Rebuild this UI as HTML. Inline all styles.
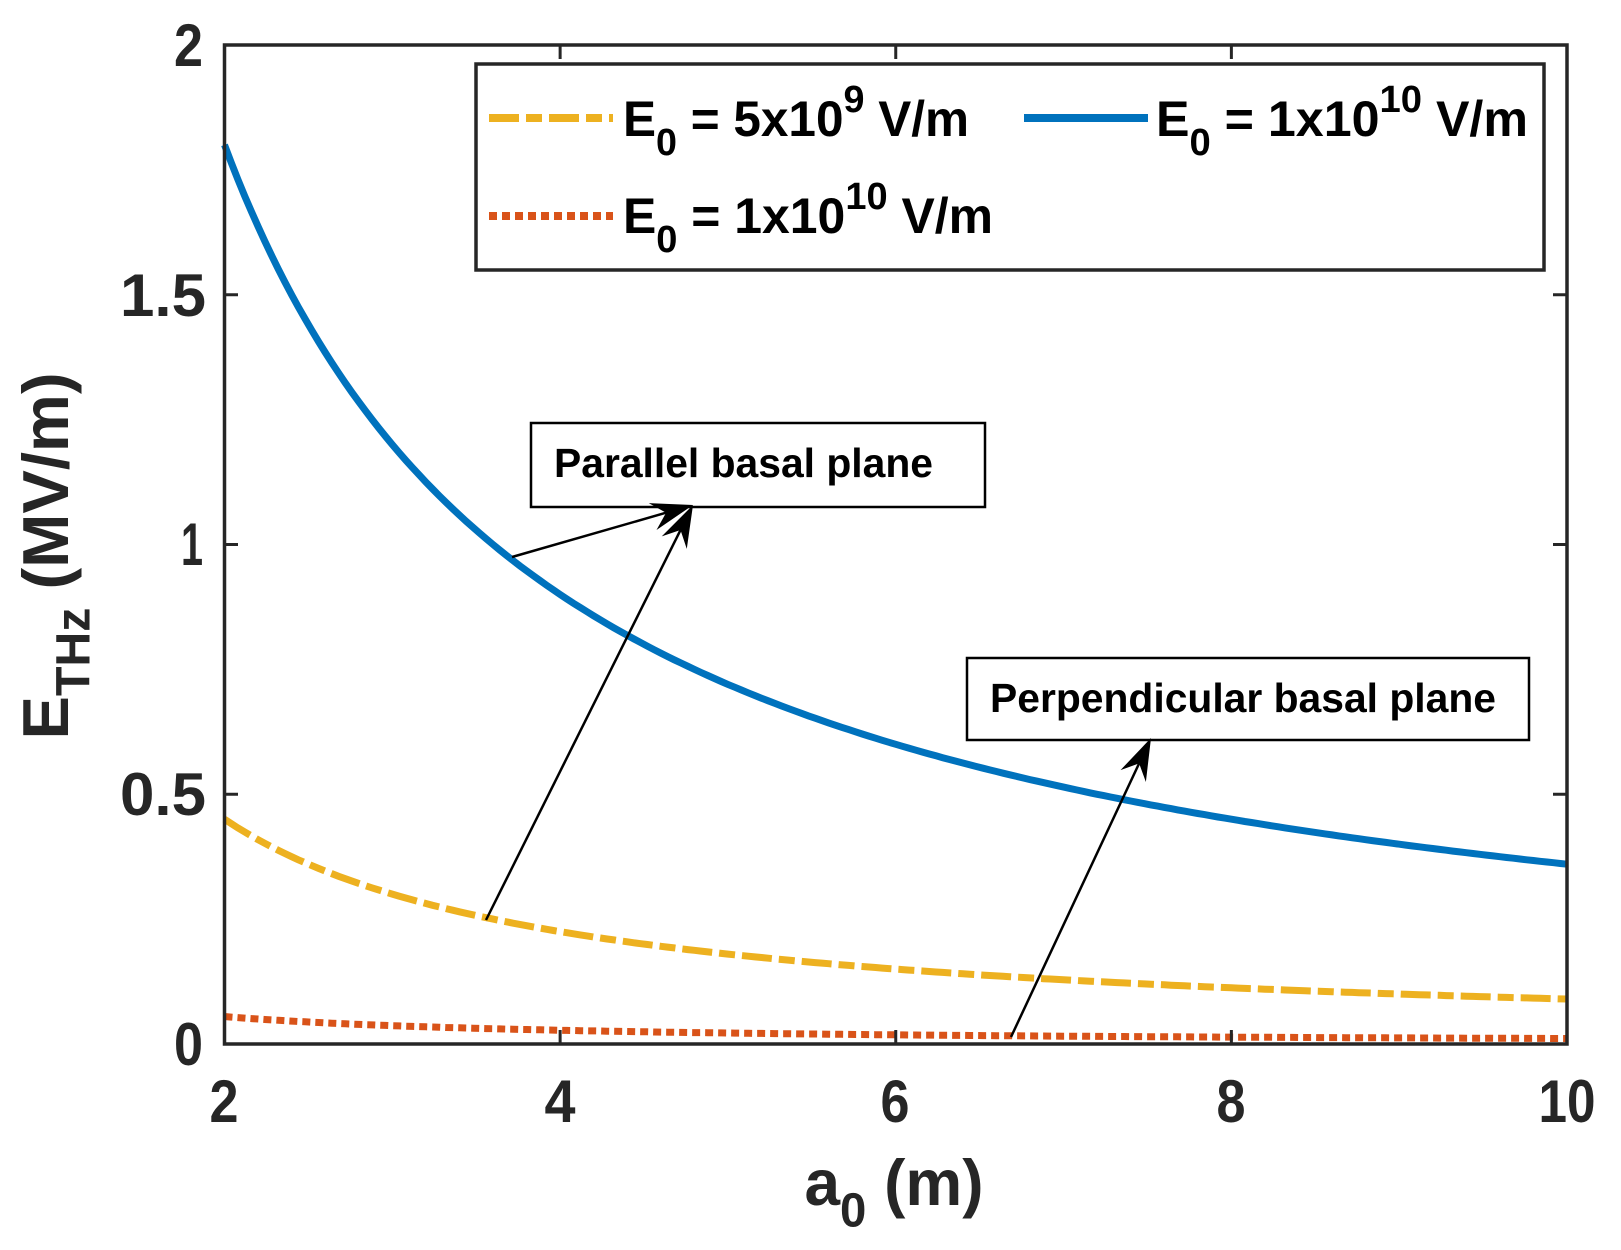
<!DOCTYPE html>
<html><head><meta charset="utf-8"><style>
html,body{margin:0;padding:0;background:#fff}
svg{display:block}
text{font-family:"Liberation Sans",Arial,sans-serif;font-weight:bold}
</style></head><body>
<svg id="s" width="1621" height="1250" viewBox="0 0 1621 1250" xmlns="http://www.w3.org/2000/svg">
<rect width="1621" height="1250" fill="#fff"/>
<g id="curves"></g>
<rect x="224.5" y="45" width="1342.5" height="999" fill="none" stroke="#262626" stroke-width="3.5"/>
<g id="ticks" stroke="#262626" stroke-width="3"></g>
<g fill="#262626" font-size="50" text-anchor="middle">
<text transform="translate(224,1122) scale(1,1.2)" textLength="29" lengthAdjust="spacingAndGlyphs">2</text>
<text transform="translate(560,1122) scale(1,1.2)" textLength="31" lengthAdjust="spacingAndGlyphs">4</text>
<text transform="translate(895,1122) scale(1,1.2)" textLength="29" lengthAdjust="spacingAndGlyphs">6</text>
<text transform="translate(1231,1122) scale(1,1.2)" textLength="29" lengthAdjust="spacingAndGlyphs">8</text>
<text transform="translate(1567,1122) scale(1,1.2)" textLength="57" lengthAdjust="spacingAndGlyphs">10</text>
</g>
<g fill="#262626" font-size="50" text-anchor="end">
<text transform="translate(203,1065) scale(1,1.2)" textLength="29" lengthAdjust="spacingAndGlyphs">0</text>
<text transform="translate(206,815) scale(1,1.2)" textLength="86" lengthAdjust="spacingAndGlyphs">0.5</text>
<text transform="translate(203,565) scale(1,1.2)" textLength="22" lengthAdjust="spacingAndGlyphs">1</text>
<text transform="translate(206,316) scale(1,1.2)" textLength="86" lengthAdjust="spacingAndGlyphs">1.5</text>
<text transform="translate(203,66) scale(1,1.2)" textLength="29" lengthAdjust="spacingAndGlyphs">2</text>
</g>
<text fill="#262626" font-size="54" text-anchor="middle" transform="translate(894,1205) scale(1,1.2)" textLength="179" lengthAdjust="spacingAndGlyphs">a<tspan font-size="40" dy="18">0</tspan><tspan dy="-18"> (m)</tspan></text>
<text fill="#262626" font-size="54" text-anchor="middle" transform="translate(68,556) rotate(-90) scale(1,1.2)" textLength="367" lengthAdjust="spacingAndGlyphs">E<tspan font-size="40" dy="18">THz</tspan><tspan dy="-18"> (MV/m)</tspan></text>
<!-- legend -->
<rect x="476" y="64" width="1068" height="206" fill="#fff" stroke="#262626" stroke-width="3.5"/>
<line x1="489" y1="118" x2="613" y2="118" stroke="#EDB120" stroke-width="8" stroke-dasharray="30,7,16,7"/>
<line x1="1024" y1="118" x2="1148" y2="118" stroke="#0072BD" stroke-width="8"/>
<line x1="489" y1="216" x2="613" y2="216" stroke="#D95319" stroke-width="8" stroke-dasharray="8,5"/>
<g fill="#000" font-size="42">
<text transform="translate(623,136) scale(1,1.2)" textLength="346" lengthAdjust="spacingAndGlyphs">E<tspan font-size="32" dy="16">0</tspan><tspan dy="-16"> = 5x10</tspan><tspan font-size="32" dy="-20">9</tspan><tspan dy="20"> V/m</tspan></text>
<text transform="translate(1156,136) scale(1,1.2)" textLength="372" lengthAdjust="spacingAndGlyphs">E<tspan font-size="32" dy="16">0</tspan><tspan dy="-16"> = 1x10</tspan><tspan font-size="32" dy="-20">10</tspan><tspan dy="20"> V/m</tspan></text>
<text transform="translate(623,233) scale(1,1.2)" textLength="370" lengthAdjust="spacingAndGlyphs">E<tspan font-size="32" dy="16">0</tspan><tspan dy="-16"> = 1x10</tspan><tspan font-size="32" dy="-20">10</tspan><tspan dy="20"> V/m</tspan></text>
</g>
<!-- annotations -->
<rect x="531" y="423" width="454" height="84" fill="#fff" stroke="#000" stroke-width="2.5"/>
<text fill="#000" font-size="34" transform="translate(554,477) scale(1,1.2)" textLength="379" lengthAdjust="spacingAndGlyphs">Parallel basal plane</text>
<rect x="967" y="658" width="562" height="82" fill="#fff" stroke="#000" stroke-width="2.5"/>
<text fill="#000" font-size="34" transform="translate(990,712) scale(1,1.2)" textLength="506" lengthAdjust="spacingAndGlyphs">Perpendicular basal plane</text>
<g id="arrows"></g>
</svg>
<script>
var ns="http://www.w3.org/2000/svg";
function X(a){return 224.5+(a-2)*(1342.5/8);}
function Y(v){return 1044-v*499.5;}
function curve(k,col,dash){var d="";for(var i=0;i<=200;i++){var a=2+8*i/200;d+=(i?"L":"M")+X(a).toFixed(1)+","+Y(k/a).toFixed(1);}
var p=document.createElementNS(ns,"path");p.setAttribute("d",d);p.setAttribute("fill","none");p.setAttribute("stroke",col);p.setAttribute("stroke-width","7");if(dash)p.setAttribute("stroke-dasharray",dash);document.getElementById("curves").appendChild(p);}
curve(0.9,"#EDB120","30,7,16,7");
curve(3.6,"#0072BD",null);
curve(0.11,"#D95319","8,5");
var t=document.getElementById("ticks"),h="";
[4,6,8].forEach(function(a){var x=X(a);h+='<line x1="'+x+'" y1="1044" x2="'+x+'" y2="1030"/><line x1="'+x+'" y1="45" x2="'+x+'" y2="59"/>';});
[0.5,1,1.5].forEach(function(v){var y=Y(v);h+='<line x1="224.5" y1="'+y+'" x2="238" y2="'+y+'"/><line x1="1567" y1="'+y+'" x2="1553" y2="'+y+'"/>';});
t.innerHTML=h;
function arrow(x1,y1,x2,y2){var dx=x2-x1,dy=y2-y1,L=Math.hypot(dx,dy),ux=dx/L,uy=dy/L,px=-uy,py=ux;
var hl=42,hw=14,bk=28;
var bx=x2-ux*hl,by=y2-uy*hl,nx=x2-ux*bk,ny=y2-uy*bk;
var s='<line x1="'+x1+'" y1="'+y1+'" x2="'+nx+'" y2="'+ny+'" stroke="#000" stroke-width="2.5"/>';
s+='<polygon fill="#000" points="'+x2+','+y2+' '+(bx+px*hw)+','+(by+py*hw)+' '+nx+','+ny+' '+(bx-px*hw)+','+(by-py*hw)+'"/>';return s;}
document.getElementById("arrows").innerHTML=arrow(512,557,693,505)+arrow(486,920,693,505)+arrow(1011,1037,1151,738);
</script>
</body></html>
